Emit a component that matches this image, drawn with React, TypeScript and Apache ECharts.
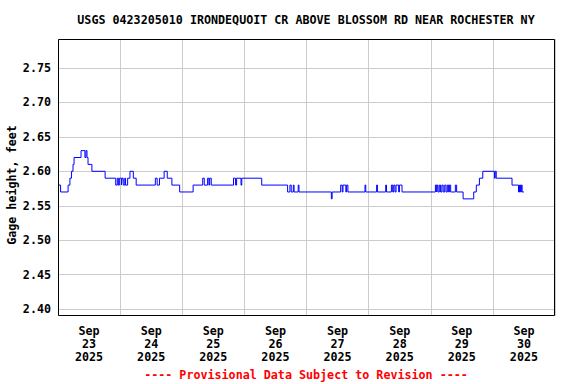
import React, { useEffect, useRef } from 'react';
import * as echarts from 'echarts';

const chartTitle = 'USGS 0423205010 IRONDEQUOIT CR ABOVE BLOSSOM RD NEAR ROCHESTER NY';
const yAxisTitle = 'Gage height, feet';
const footnote = '---- Provisional Data Subject to Revision ----';

// x tick labels, placed at noon of each day (hours since Sep 23 00:00)
const dayLabels = [
  'Sep\n23\n2025',
  'Sep\n24\n2025',
  'Sep\n25\n2025',
  'Sep\n26\n2025',
  'Sep\n27\n2025',
  'Sep\n28\n2025',
  'Sep\n29\n2025',
  'Sep\n30\n2025',
];

// Time of each change in reading, hours since 2025-09-23 00:00
const hours = [
  0, 1.0, 3.9, 4.6, 5.2, 5.8, 6.2, 8.9, 10.4, 10.8, 11.2, 11.6, 13.1, 18.2,
  22.3, 22.9, 23.3, 23.7, 24.5, 24.75, 25.2, 25.8, 26.1, 26.9, 27.8, 29.1, 30.2,
  37.6, 38.3, 39.2, 41.0, 42.2, 44.0, 47.0, 52.2, 55.9, 56.5, 57.8, 58.3, 58.6, 59.2,
  67.8, 68.6, 69.0, 70.7, 71.0, 78.7, 88.7, 89.6, 90.1, 90.9, 91.2, 92.8, 93.1,
  105.6, 105.9, 109.2, 109.8, 110.1, 111.2, 111.5, 112.0, 118.6, 118.9, 123.1, 123.4,
  126.6, 126.9, 128.8, 129.3, 129.7, 130.2, 130.6, 131.6, 131.9, 132.9,
  145.8, 146.3, 146.5, 146.8, 147.3, 147.8, 148.3, 148.8, 149.4, 149.9, 150.4, 150.9,
  151.2, 151.7, 153.5, 154.0, 156.5, 160.6, 161.6, 162.8, 164.1, 168.6, 168.9, 169.3,
  175.4, 177.9, 178.3, 178.7, 179.0, 179.3, 180.0,
];

// Gage height (feet) from each time above onward
const gageHeight = [
  2.58, 2.57, 2.58, 2.59, 2.60, 2.61, 2.62, 2.63, 2.62, 2.63, 2.62, 2.61, 2.60, 2.59,
  2.58, 2.59, 2.58, 2.59, 2.58, 2.59, 2.58, 2.59, 2.58, 2.59, 2.60, 2.59, 2.58,
  2.59, 2.58, 2.59, 2.60, 2.59, 2.58, 2.57, 2.58, 2.59, 2.58, 2.59, 2.58, 2.59, 2.58,
  2.59, 2.58, 2.59, 2.58, 2.59, 2.58, 2.57, 2.58, 2.57, 2.58, 2.57, 2.58, 2.57,
  2.56, 2.57, 2.58, 2.57, 2.58, 2.57, 2.58, 2.57, 2.58, 2.57, 2.58, 2.57,
  2.58, 2.57, 2.58, 2.57, 2.58, 2.57, 2.58, 2.57, 2.58, 2.57,
  2.58, 2.57, 2.58, 2.57, 2.58, 2.57, 2.58, 2.57, 2.58, 2.57, 2.58, 2.57,
  2.58, 2.57, 2.58, 2.57, 2.56, 2.57, 2.58, 2.59, 2.60, 2.59, 2.60, 2.59,
  2.58, 2.57, 2.58, 2.57, 2.58, 2.57, 2.57,
];

const FONT = '"DejaVu Sans Mono", "Liberation Mono", monospace';
const FS = 11.7;

export default function App() {
  const ref = useRef<HTMLDivElement>(null);

  useEffect(() => {
    if (!ref.current) return;
    const chart = echarts.init(ref.current, null, { renderer: 'svg' });
    chart.setOption({
      animation: false,
      backgroundColor: '#ffffff',
      grid: { left: 58, right: 21, top: 39, bottom: 68, show: false },
      xAxis: {
        type: 'value',
        min: 0,
        max: 192,
        interval: 12,
        axisLine: { show: false },
        axisTick: { show: false },
        axisLabel: {
          show: true,
          margin: 8,
          color: '#000',
          fontFamily: FONT,
          fontWeight: 'bold',
          fontSize: FS,
          lineHeight: 13,
          showMinLabel: true,
          showMaxLabel: true,
          formatter: (v: number) =>
            v % 24 === 12 ? dayLabels[(v - 12) / 24] ?? '' : '',
        },
        splitLine: {
          show: true,
          lineStyle: { color: ['#cccccc', 'rgba(0,0,0,0)'], width: 1 },
        },
      },
      yAxis: {
        type: 'value',
        min: 2.39,
        max: 2.792,
        interval: 0.01,
        axisLine: { show: false },
        axisTick: { show: false },
        axisLabel: {
          margin: 7,
          color: '#000',
          fontFamily: FONT,
          fontWeight: 'bold',
          fontSize: FS,
          formatter: (v: number) => {
            const c = Math.round(v * 100);
            return c % 5 === 0 && Math.abs(v * 100 - c) < 0.05 ? v.toFixed(2) : '';
          },
        },
        splitLine: {
          show: true,
          lineStyle: {
            color: ['rgba(0,0,0,0)', '#cccccc', 'rgba(0,0,0,0)', 'rgba(0,0,0,0)', 'rgba(0,0,0,0)'],
            width: 1,
          },
        },
      },
      series: [
        {
          type: 'line',
          step: 'end',
          data: hours.map((h, i) => [h, gageHeight[i]]),
          showSymbol: false,
          symbol: 'none',
          lineStyle: { color: '#0000ff', width: 1 },
          clip: true,
        },
      ],
      graphic: [
        {
          type: 'rect',
          z: 100,
          shape: { x: 58.5, y: 39.5, width: 496, height: 276 },
          style: { fill: 'none', stroke: '#000', lineWidth: 1 },
          silent: true,
        },
        {
          type: 'text',
          x: 306,
          y: 20,
          style: {
            text: chartTitle,
            fill: '#000',
            font: `bold ${FS}px ${FONT}`,
            textAlign: 'center',
            textVerticalAlign: 'middle',
          },
        },
        {
          type: 'text',
          x: 12,
          y: 185,
          rotation: Math.PI / 2,
          style: {
            text: yAxisTitle,
            fill: '#000',
            font: `bold ${FS}px ${FONT}`,
            textAlign: 'center',
            textVerticalAlign: 'middle',
          },
        },
        {
          type: 'text',
          x: 306,
          y: 375,
          style: {
            text: footnote,
            fill: '#ff0000',
            font: `bold ${FS}px ${FONT}`,
            textAlign: 'center',
            textVerticalAlign: 'middle',
          },
        },
      ],
    });
    return () => chart.dispose();
  }, []);

  return (
    <div
      ref={ref}
      style={{ position: 'fixed', left: 0, top: 0, width: 576, height: 384 }}
    />
  );
}
